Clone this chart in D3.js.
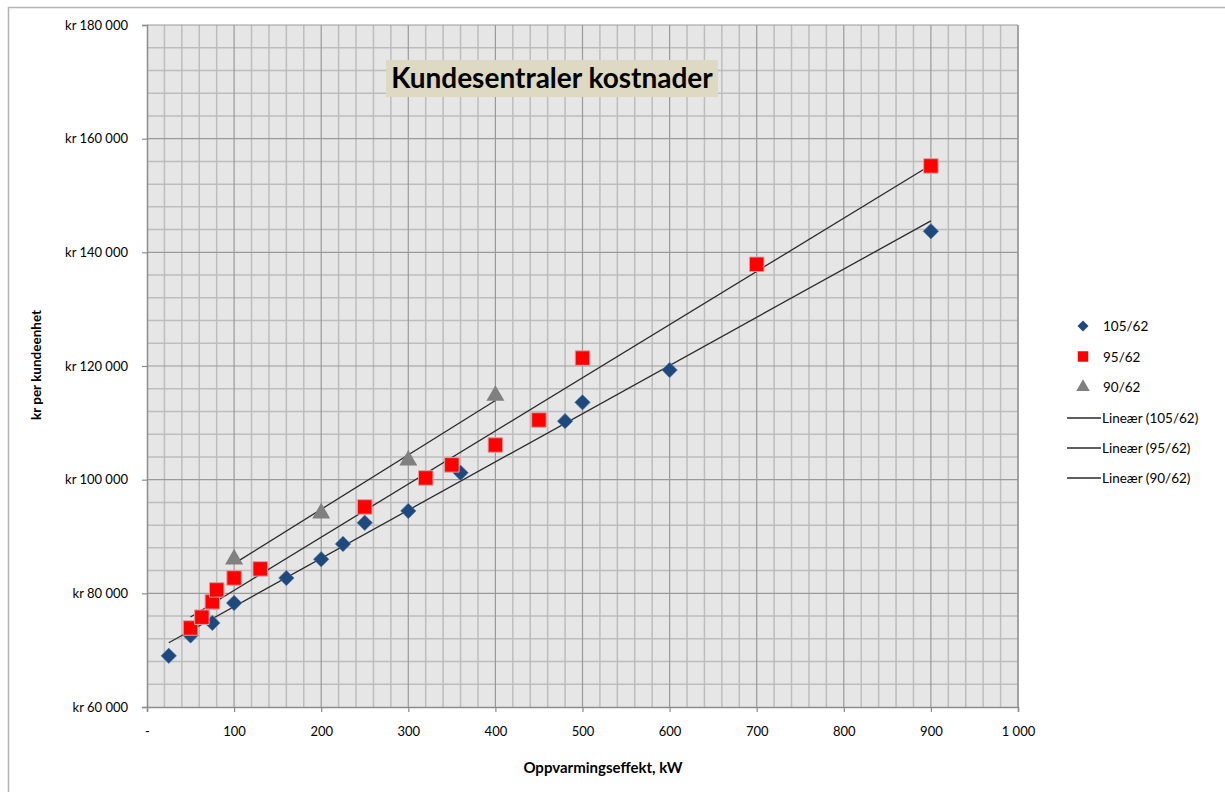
<!DOCTYPE html>
<meta charset="utf-8">
<style>
    body { margin: 0; background: #fff; }
    .container { width: 1225px; height: 792px; }
    text { font-family: Lato, "Open Sans", sans-serif; fill: #000; }
</style>
<body>
<div class="container"></div>
<script src="https://cdn.jsdelivr.net/npm/d3@7"></script>
<script>

// series data: oppvarmingseffekt (kW) and kr per kundeenhet
const seriesNames = ['105/62', '95/62', '90/62'];

const kw105 = [25, 50, 75, 100, 160, 200, 225, 250, 300, 360, 480, 500, 600, 900];
const kr105 = [69000, 72600, 74800, 78300, 82700, 86000, 88700, 92400, 94500, 101200, 110300, 113600, 119300, 143700];

const kw95 = [50, 63, 75, 80, 100, 130, 250, 320, 350, 400, 450, 500, 700, 900];
const kr95 = [73900, 75800, 78500, 80600, 82700, 84300, 95200, 100300, 102600, 106100, 110500, 121400, 137900, 155200];

const kw90 = [100, 200, 300, 400];
const kr90 = [86000, 94100, 103400, 114800];

const xTicks = [0, 100, 200, 300, 400, 500, 600, 700, 800, 900, 1000];
const yTicks = [60000, 80000, 100000, 120000, 140000, 160000, 180000];

const width = 1225;
const height = 792;
const plot = { left: 147, right: 1018, top: 25, bottom: 707 };

const svg = d3.select('.container')
    .append('svg')
    .attr('width', width)
    .attr('height', height);

// outer chart border
svg.append('rect')
    .attr('x', 8.5).attr('y', 7.5)
    .attr('width', 1230).attr('height', 800)
    .style('fill', 'none')
    .style('stroke', '#b3b3b3')
    .style('stroke-width', 1.5);

const x = d3.scaleLinear().domain([0, 1000]).range([plot.left, plot.right]);
const y = d3.scaleLinear().domain([60000, 180000]).range([plot.bottom, plot.top]);

// plot background
svg.append('rect')
    .attr('x', plot.left).attr('y', plot.top)
    .attr('width', plot.right - plot.left).attr('height', plot.bottom - plot.top)
    .style('fill', '#e6e6e6');

const grid = svg.append('g');

// minor grid
grid.selectAll('line.mx')
    .data(d3.range(0, 1001, 20).filter(v => v % 100 !== 0))
    .enter().append('line')
    .attr('x1', d => x(d)).attr('x2', d => x(d))
    .attr('y1', plot.top).attr('y2', plot.bottom)
    .style('stroke', '#bdbdbd').style('stroke-width', 1.5);

grid.selectAll('line.my')
    .data(d3.range(60000, 180001, 4000).filter(v => v % 20000 !== 0))
    .enter().append('line')
    .attr('y1', d => y(d)).attr('y2', d => y(d))
    .attr('x1', plot.left).attr('x2', plot.right)
    .style('stroke', '#bdbdbd').style('stroke-width', 1.5);

// major grid
grid.selectAll('line.Mx')
    .data(xTicks.slice(1))
    .enter().append('line')
    .attr('x1', d => x(d)).attr('x2', d => x(d))
    .attr('y1', plot.top).attr('y2', plot.bottom)
    .style('stroke', '#9a9a9a').style('stroke-width', 1.2);

grid.selectAll('line.My')
    .data(yTicks.slice(1))
    .enter().append('line')
    .attr('y1', d => y(d)).attr('y2', d => y(d))
    .attr('x1', plot.left).attr('x2', plot.right)
    .style('stroke', '#9a9a9a').style('stroke-width', 1.2);

// axes
const fmtKr = v => 'kr ' + d3.format(',')(v).replace(/,/g, ' ');
const fmtKw = v => v === 0 ? '-' : d3.format(',')(v).replace(/,/g, ' ');

const yAxis = svg.append('g')
    .attr('transform', `translate(${plot.left},0)`)
    .call(d3.axisLeft(y).tickValues(yTicks).tickFormat(fmtKr).tickSize(5).tickPadding(14));

const xAxis = svg.append('g')
    .attr('transform', `translate(0,${plot.bottom})`)
    .call(d3.axisBottom(x).tickValues(xTicks).tickFormat(fmtKw).tickSize(5).tickPadding(15));

[yAxis, xAxis].forEach(a => {
    a.select('.domain').style('stroke', '#8c8c8c').style('stroke-width', 1.5);
    a.selectAll('.tick line').style('stroke', '#8c8c8c').style('stroke-width', 1.2);
    a.selectAll('.tick text').style('font-size', '13px').style('font-family', 'Lato, sans-serif');
});

// right edge of plot
svg.append('line')
    .attr('x1', plot.right).attr('x2', plot.right)
    .attr('y1', plot.top).attr('y2', plot.bottom)
    .style('stroke', '#9a9a9a').style('stroke-width', 1.5);

// trend lines (least squares)
const fit = (xs, ys) => {
    const mx = d3.mean(xs), my = d3.mean(ys);
    const b = d3.sum(xs, (v, i) => (v - mx) * (ys[i] - my)) / d3.sum(xs, v => (v - mx) * (v - mx));
    return { a: my - b * mx, b: b, x0: d3.min(xs), x1: d3.max(xs) };
};

const trends = [fit(kw105, kr105), fit(kw95, kr95), fit(kw90, kr90)];

svg.selectAll('line.trend')
    .data(trends)
    .enter().append('line')
    .attr('class', 'trend')
    .attr('x1', d => x(d.x0)).attr('y1', d => y(d.a + d.b * d.x0))
    .attr('x2', d => x(d.x1)).attr('y2', d => y(d.a + d.b * d.x1))
    .style('stroke', '#2b2b2b').style('stroke-width', 1.3);

// markers
const pts = (xs, ys) => xs.map((v, i) => ({ x: v, y: ys[i] }));

svg.selectAll('path.s105')
    .data(pts(kw105, kr105))
    .enter().append('path')
    .attr('d', d3.symbol().type(d3.symbolSquare).size(120))
    .attr('transform', d => `translate(${x(d.x)},${y(d.y)}) rotate(45)`)
    .style('fill', '#1f497d')
    .style('stroke', '#5f7fa8').style('stroke-width', 0.6);

svg.selectAll('path.s95')
    .data(pts(kw95, kr95))
    .enter().append('path')
    .attr('transform', d => `translate(${x(d.x)},${y(d.y)})`)
    .attr('d', d3.symbol().type(d3.symbolSquare).size(210))
    .style('fill', '#ff0000')
    .style('stroke', '#d9a0a0').style('stroke-width', 1);

svg.selectAll('path.s90')
    .data(pts(kw90, kr90))
    .enter().append('path')
    .attr('transform', d => `translate(${x(d.x)},${y(d.y)})`)
    .attr('d', d3.symbol().type(d3.symbolTriangle).size(140))
    .style('fill', '#808080');

// title
const tg = svg.append('g');
tg.append('rect')
    .attr('x', 386).attr('y', 60)
    .attr('width', 332).attr('height', 37)
    .style('fill', '#ddd9c3');
tg.append('text')
    .attr('x', 552).attr('y', 88)
    .attr('text-anchor', 'middle')
    .style('font-size', '28px').style('font-weight', 'bold')
    .text('Kundesentraler kostnader');

// axis titles
svg.append('text')
    .attr('transform', 'translate(41,365) rotate(-90)')
    .attr('text-anchor', 'middle')
    .style('font-size', '13.5px').style('font-weight', 'bold')
    .text('kr per kundeenhet');

svg.append('text')
    .attr('x', 603).attr('y', 773)
    .attr('text-anchor', 'middle')
    .style('font-size', '15px').style('font-weight', 'bold')
    .text('Oppvarmingseffekt, kW');

// legend
const legend = svg.append('g');
const legMarks = [
    { sym: d3.symbolSquare, size: 60, rot: 45, fill: '#1f497d' },
    { sym: d3.symbolSquare, size: 110, rot: 0, fill: '#ff0000' },
    { sym: d3.symbolTriangle, size: 80, rot: 0, fill: '#808080' }
];

legMarks.forEach((m, i) => {
    const ly = 326 + i * 30.5;
    legend.append('path')
        .attr('d', d3.symbol().type(m.sym).size(m.size))
        .attr('transform', `translate(1083,${ly}) rotate(${m.rot})`)
        .style('fill', m.fill);
    legend.append('text')
        .attr('x', 1103).attr('y', ly + 5)
        .style('font-size', '13.5px')
        .text(seriesNames[i]);
});

seriesNames.forEach((n, i) => {
    const ly = 418 + i * 30;
    legend.append('line')
        .attr('x1', 1067).attr('x2', 1101)
        .attr('y1', ly).attr('y2', ly)
        .style('stroke', '#2b2b2b').style('stroke-width', 1.3);
    legend.append('text')
        .attr('x', 1102).attr('y', ly + 5)
        .style('font-size', '13.5px')
        .text('Lineær (' + n + ')');
});

</script>
</body>
